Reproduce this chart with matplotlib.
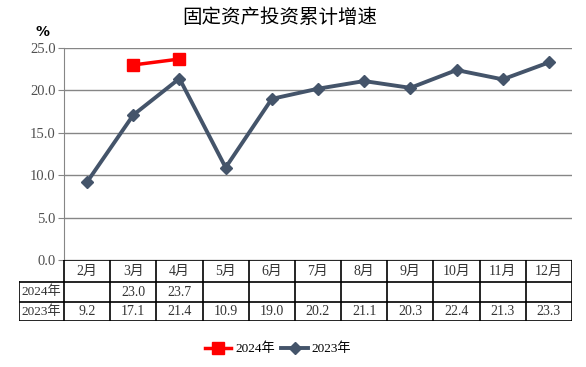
import numpy as np
import matplotlib
matplotlib.use('Agg')
import matplotlib.pyplot as plt
from matplotlib.lines import Line2D

months = ['2月', '3月', '4月', '5月', '6月', '7月', '8月', '9月', '10月', '11月', '12月']
y2024 = [np.nan, 23.0, 23.7, np.nan, np.nan, np.nan, np.nan, np.nan, np.nan, np.nan, np.nan]
y2023 = [9.2, 17.1, 21.4, 10.9, 19.0, 20.2, 21.1, 20.3, 22.4, 21.3, 23.3]
series_names = ['2024年', '2023年']

plt.rcParams['font.family'] = ['Liberation Serif', 'Noto Sans CJK SC']
plt.rcParams['font.size'] = 10

W, H = 586, 367
fig = plt.figure(figsize=(W / 100, H / 100), dpi=100)

def px(l, t, r, b):
    return [l / W, 1 - b / H, (r - l) / W, (b - t) / H]

red = '#FF0000'
blue = '#44546A'
grid = '#868686'
txt = '#333333'

ax = fig.add_axes(px(64, 48, 572, 260))
x = np.arange(len(months))
ax.set_xlim(-0.5, len(months) - 0.5)
ax.set_ylim(0, 25)
ax.yaxis.set_major_locator(plt.MultipleLocator(5))
ax.yaxis.set_major_formatter(plt.FormatStrFormatter('%.1f'))
ax.grid(axis='y', color=grid, linewidth=1)
ax.set_axisbelow(True)
for s in ['top', 'right', 'bottom']:
    ax.spines[s].set_visible(False)
ax.spines['left'].set_color(grid)
ax.tick_params(axis='y', length=4, color=grid, labelsize=10.5, labelcolor='#505050', pad=2)
ax.set_xticks([])

ax.plot(x, y2023, color=blue, linewidth=2.8, marker='D', markersize=6.5, zorder=3)
ax.plot(x, y2024, color=red, linewidth=2.5, marker='s', markersize=8, zorder=4)

fig.text(280 / W, 1 - 18 / H, '固定资产投资累计增速', ha='center', va='center', fontsize=14)
fig.text(42 / W, 1 - 32 / H, '%', ha='center', va='center', fontsize=10, fontweight='bold',
         family=['DejaVu Sans'])

# data table under the axis
tab = fig.add_axes(px(19, 260, 572, 321))
tab.set_xlim(19, 572)
tab.set_ylim(321, 260)
tab.axis('off')
col_w = (572 - 64) / len(months)
rows = [260, 282, 302, 321]
lk = dict(color='black', linewidth=1.2)
tab.plot([64, 572], [260, 260], **lk)
for yy in rows[1:]:
    tab.plot([19, 572], [yy, yy], **lk)
tab.plot([19, 19], [282, 321], **lk)
for i in range(len(months) + 1):
    xx = 64 + i * col_w
    tab.plot([xx, xx], [260, 321], **lk)
for i, m in enumerate(months):
    cx = 64 + (i + 0.5) * col_w
    tab.text(cx, 271, m, ha='center', va='center', color=txt)
    if not np.isnan(y2024[i]):
        tab.text(cx, 292, f'{y2024[i]:.1f}', ha='center', va='center', color=txt)
    tab.text(cx, 311.5, f'{y2023[i]:.1f}', ha='center', va='center', color=txt)
tab.text(41.5, 292, series_names[0], ha='center', va='center', color=txt, fontsize=9.5)
tab.text(41.5, 311.5, series_names[1], ha='center', va='center', color=txt, fontsize=9.5)

handles = [Line2D([], [], color=red, linewidth=2.5, marker='s', markersize=8),
           Line2D([], [], color=blue, linewidth=2.8, marker='D', markersize=6.5)]
fig.legend(handles, series_names, loc='center', bbox_to_anchor=(278 / W, 1 - 349 / H),
           ncol=2, frameon=False, handlelength=2.0, handletextpad=0.3, columnspacing=0.5,
           fontsize=9.5)

fig.savefig('out.png', dpi=100)
